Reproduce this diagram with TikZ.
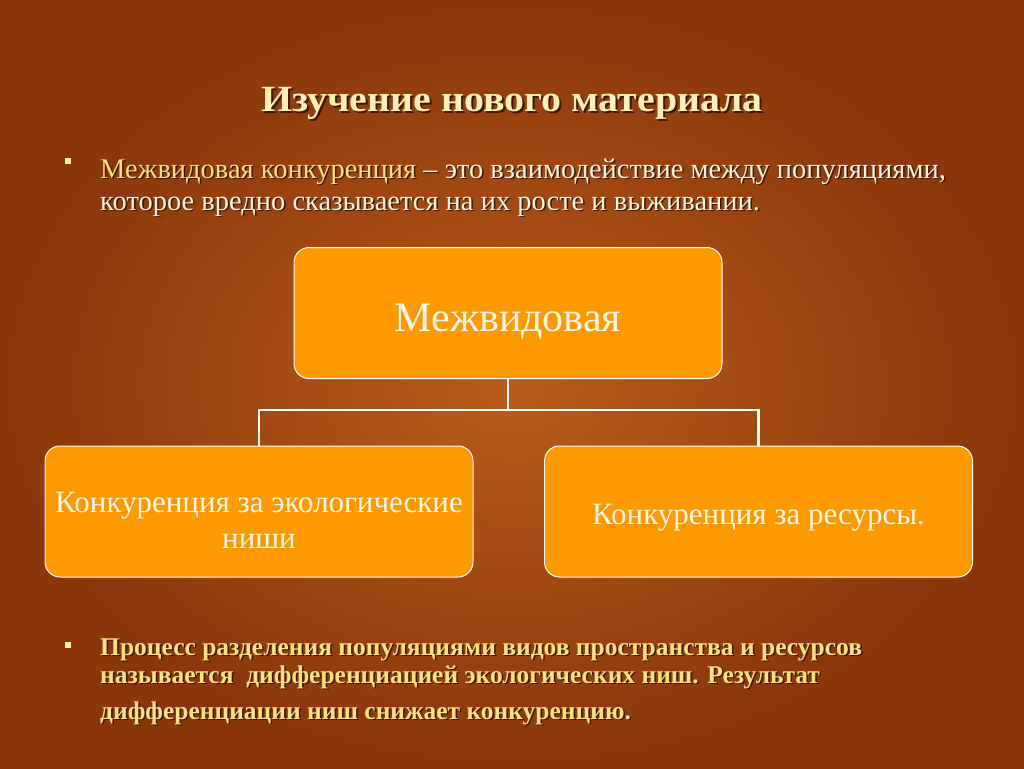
\documentclass[tikz,border=0pt]{standalone}
\usepackage{fontspec}
\setmainfont{Liberation Serif}
\newfontfamily\widefont[FakeStretch=1.08]{Liberation Serif}
\usetikzlibrary{positioning}

\definecolor{bgmid}{HTML}{BA5C1C}
\definecolor{bgedge}{HTML}{8A360A}
\definecolor{boxfill}{HTML}{FF9900}
\definecolor{boxtext}{HTML}{FFF6E6}
\definecolor{cream}{HTML}{FFF1B4}
\definecolor{creamhi}{HTML}{FFE27E}
\definecolor{creamlo}{HTML}{FFF7DC}
\definecolor{shadowbrown}{HTML}{3E1500}

\tikzset{
  branch/.style={box, minimum width=428pt, minimum height=131pt},
  box/.style={draw=white, line width=1pt, fill=boxfill, rounded corners=15pt,
    text=boxtext, align=center, inner sep=0pt},
  link/.style={draw=white, line width=2.6pt},
  txtshadow/.style={text=shadowbrown, inner sep=0pt},
  bulletmark/.style={fill=cream, minimum size=6.5pt, inner sep=0pt},
  deftext/.style={font=\fontsize{28.5}{32}\selectfont, anchor=base west, align=left},
  razdtext/.style={font=\bfseries\fontsize{25.5}{28}\selectfont, anchor=base west, align=left},
}

\begin{document}
\begin{tikzpicture}[x=1pt,y=-1pt]
    \useasboundingbox (0,0) rectangle (1024,768);
    \shade[inner color=bgmid, outer color=bgedge] (0,0) rectangle (1024,768);

    % title
    \node[txtshadow, anchor=base] (title-s) at (514,113) {\widefont\fontsize{37}{40}\selectfont\bfseries Изучение нового материала};
    \node[text=cream, inner sep=0pt, anchor=base] (title) at (512,111) {\widefont\fontsize{37}{40}\selectfont\bfseries Изучение нового материала};

    % first bullet
    \node[bulletmark] (mark1) at (68,161) {};
    \node[txtshadow, deftext] (def-s) at (101.5,211.5)
        {Межвидовая конкуренция – это взаимодействие между популяциями,\\
         которое вредно сказывается на их росте и выживании.};
    \node[inner sep=0pt, deftext, text=creamlo] (def) at (100,210)
        {\textcolor{creamhi}{Межвидовая конкуренция} – это взаимодействие между популяциями,\\
         которое вредно сказывается на их росте и выживании.};

    % scheme
    \node[branch] (mezhvid) at (508,313) {\raisebox{-18pt}[0pt][0pt]{\fontsize{42}{46}\selectfont Межвидовая}};
    \node[branch, font=\fontsize{31}{36}\selectfont] (nishi) at (259,511.5) {\raisebox{-19pt}[0pt][0pt]{Конкуренция за экологические}\\[0pt]\raisebox{-19pt}[0pt][0pt]{ниши}};
    \node[branch, font=\fontsize{31}{35}\selectfont] (resursy) at (758.5,511.5) {\raisebox{-13pt}[0pt][0pt]{Конкуренция за ресурсы.}};

    \coordinate (split) at (508,410);
    \draw[link] (mezhvid.south) -- (split);
    \draw[link] (split) -| (nishi.north);
    \draw[link] (split) -| (resursy.north);

    % second bullet
    \node[bulletmark] (mark2) at (68,645) {};
    \node[txtshadow, razdtext] (razd-s) at (101.5,720.5)
        {Процесс разделения популяциями видов пространства и ресурсов\\
         называется\ \ дифференциацией экологических ниш. Результат\\[8pt]
         дифференциации ниш снижает конкуренцию.};
    \node[inner sep=0pt, razdtext, text=creamhi] (razd) at (100,719)
        {Процесс разделения популяциями видов пространства и ресурсов\\
         называется\ \ дифференциацией экологических ниш. Результат\\[8pt]
         дифференциации ниш снижает конкуренцию.};
\end{tikzpicture}
\end{document}
